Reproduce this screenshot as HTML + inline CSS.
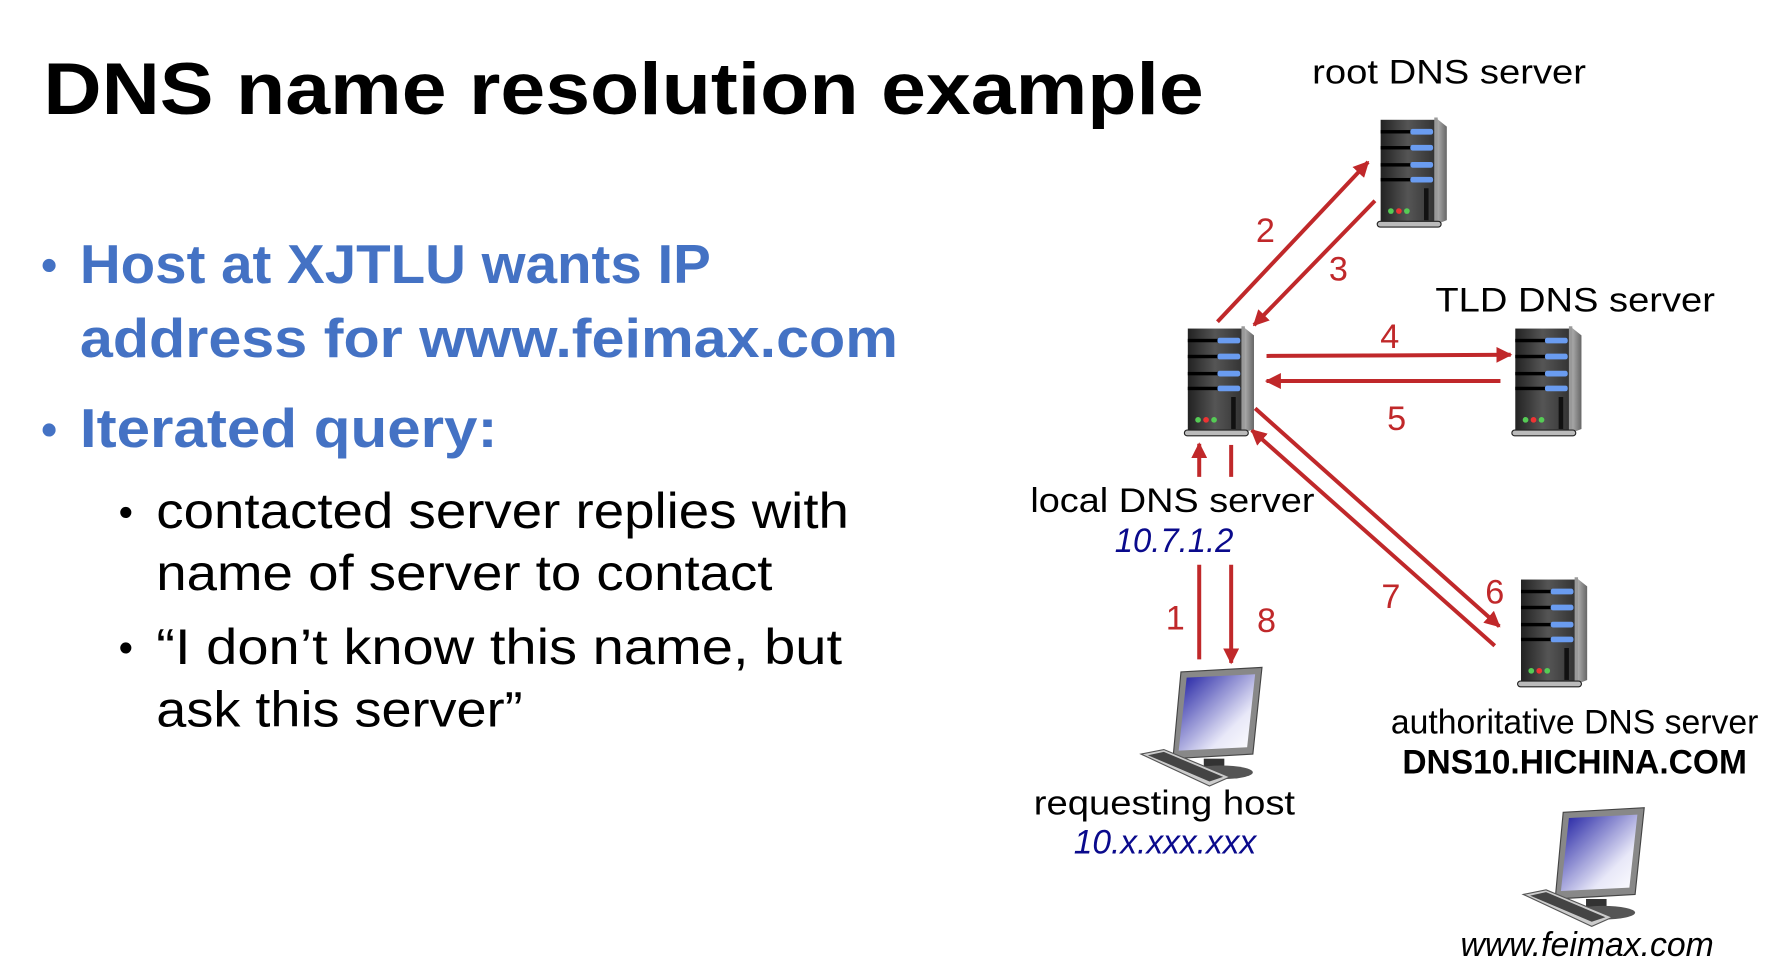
<!DOCTYPE html>
<html><head><meta charset="utf-8"><style>
html,body{margin:0;padding:0;background:#fff;width:1780px;height:972px;overflow:hidden}
svg{display:block}
</style></head><body>
<svg width="1780" height="972" viewBox="0 0 1560 852" preserveAspectRatio="none" xmlns="http://www.w3.org/2000/svg">
<defs>
<linearGradient id="body" x1="0" x2="1" y1="0" y2="0"><stop offset="0" stop-color="#222"/><stop offset="0.5" stop-color="#555"/><stop offset="1" stop-color="#333"/></linearGradient>
<linearGradient id="side" x1="0" x2="1"><stop offset="0" stop-color="#bbb"/><stop offset="1" stop-color="#666"/></linearGradient>
<linearGradient id="scr" x1="0" y1="0" x2="1" y2="1"><stop offset="0" stop-color="#1a1aa0"/><stop offset="0.7" stop-color="#e8e8f8"/><stop offset="1" stop-color="#fff"/></linearGradient>
<marker id="ah" viewBox="0 0 10 10" refX="9" refY="5" markerWidth="4" markerHeight="4" orient="auto" markerUnits="strokeWidth"><path d="M0,0 L10,5 L0,10 z" fill="#c0282a"/></marker>
<g id="srv">
  <rect x="0" y="2" width="48" height="90" fill="url(#body)"/>
  <polygon points="48,0 58,8 58,90 48,94" fill="url(#side)"/>
  <rect x="47" y="0" width="3" height="94" fill="#999"/>
  <rect x="0" y="11" width="46" height="3" fill="#000"/><rect x="26" y="10" width="20" height="5" rx="2" fill="#6a9cf0"/>
  <rect x="0" y="25" width="46" height="3" fill="#000"/><rect x="26" y="24" width="20" height="5" rx="2" fill="#6a9cf0"/>
  <rect x="0" y="40" width="46" height="3" fill="#000"/><rect x="26" y="39" width="20" height="5" rx="2" fill="#6a9cf0"/>
  <rect x="0" y="53" width="46" height="3" fill="#000"/><rect x="26" y="52" width="20" height="5" rx="2" fill="#6a9cf0"/>
  <rect x="38" y="62" width="4" height="28" fill="#111"/>
  <circle cx="9" cy="82" r="2.5" fill="#5c5"/><circle cx="16" cy="82" r="2.5" fill="#e33"/><circle cx="23" cy="82" r="2.5" fill="#5c5"/>
  <rect x="-3" y="91" width="56" height="5" rx="2.5" fill="#bbb" stroke="#222" stroke-width="1"/>
</g>
<g id="pc">
  <polygon points="35,0 106,-4 98,72 28,76" fill="#888" stroke="#444"/>
  <polygon points="40,5 100,2 93,66 33,69" fill="url(#scr)"/>
  <rect x="55" y="76" width="18" height="8" fill="#333"/>
  <ellipse cx="70" cy="88" rx="28" ry="6" fill="#555"/>
  <polygon points="0,72 20,68 78,92 60,100" fill="#ccc" stroke="#555"/>
  <polygon points="6,73 20,70 72,92 60,96" fill="#444"/>
</g>
</defs>
<g font-family="Liberation Sans, sans-serif">
<text x="38" y="100" font-size="64" font-weight="bold" textLength="1017" lengthAdjust="spacingAndGlyphs">DNS name resolution example</text>
<g fill="#4472c4" font-weight="bold" font-size="48">
<text x="36" y="246" font-size="40">•</text>
<text x="70" y="248" textLength="553" lengthAdjust="spacingAndGlyphs">Host at XJTLU wants IP</text>
<text x="70" y="313" textLength="717" lengthAdjust="spacingAndGlyphs">address for www.feimax.com</text>
<text x="36" y="390" font-size="40">•</text>
<text x="70" y="392" textLength="366" lengthAdjust="spacingAndGlyphs">Iterated query:</text>
</g>
<g font-size="44">
<text x="104" y="461" font-size="36">•</text>
<text x="137" y="463" textLength="607" lengthAdjust="spacingAndGlyphs">contacted server replies with</text>
<text x="137" y="517" textLength="540" lengthAdjust="spacingAndGlyphs">name of server to contact</text>
<text x="104" y="580" font-size="36">•</text>
<text x="137" y="582" textLength="601" lengthAdjust="spacingAndGlyphs">“I don’t know this name, but</text>
<text x="137" y="637" textLength="321" lengthAdjust="spacingAndGlyphs">ask this server”</text>
</g>
<g font-size="30">
<text x="1150" y="73" textLength="240" lengthAdjust="spacingAndGlyphs">root DNS server</text>
<text x="1258" y="273" textLength="245" lengthAdjust="spacingAndGlyphs">TLD DNS server</text>
<text x="903" y="449" textLength="249" lengthAdjust="spacingAndGlyphs">local DNS server</text>
<text x="977" y="484" fill="#0a0a8c" font-style="italic" textLength="104" lengthAdjust="spacingAndGlyphs">10.7.1.2</text>
<text x="906" y="714" textLength="229" lengthAdjust="spacingAndGlyphs">requesting host</text>
<text x="941" y="748" fill="#0a0a8c" font-style="italic" textLength="160" lengthAdjust="spacingAndGlyphs">10.x.xxx.xxx</text>
<text x="1219" y="643" textLength="322" lengthAdjust="spacingAndGlyphs">authoritative DNS server</text>
<text x="1229" y="678" font-weight="bold" textLength="302" lengthAdjust="spacingAndGlyphs">DNS10.HICHINA.COM</text>
<text x="1280" y="838" font-style="italic" textLength="222" lengthAdjust="spacingAndGlyphs">www.feimax.com</text>
</g>
<g fill="#c0282a" font-size="30" text-anchor="middle">
<text x="1109" y="212">2</text><text x="1173" y="246">3</text>
<text x="1218" y="305">4</text><text x="1224" y="377">5</text>
<text x="1219" y="533">7</text><text x="1310" y="529">6</text>
<text x="1030" y="552">1</text><text x="1110" y="554">8</text>
</g>
</g>
<g stroke="#c0282a" stroke-width="3.5" fill="none">
<line x1="1067" y1="282" x2="1199" y2="142" marker-end="url(#ah)"/>
<line x1="1205" y1="176" x2="1099" y2="285" marker-end="url(#ah)"/>
<line x1="1110" y1="312" x2="1324" y2="311" marker-end="url(#ah)"/>
<line x1="1315" y1="334" x2="1110" y2="334" marker-end="url(#ah)"/>
<line x1="1100" y1="358" x2="1314" y2="549" marker-end="url(#ah)"/>
<line x1="1310" y1="566" x2="1097" y2="377" marker-end="url(#ah)"/>
<line x1="1051" y1="578" x2="1051" y2="495"/>
<line x1="1051" y1="418" x2="1051" y2="389" marker-end="url(#ah)"/>
<line x1="1079" y1="390" x2="1079" y2="418"/>
<line x1="1079" y1="495" x2="1079" y2="581" marker-end="url(#ah)"/>
</g>
<use href="#srv" x="1210" y="103"/>
<use href="#srv" x="1328" y="286"/>
<use href="#srv" x="1041" y="286"/>
<use href="#srv" x="1333" y="506"/>
<use href="#pc" x="1000" y="589"/>
<use href="#pc" x="1335" y="712"/>
</svg>
</body></html>
